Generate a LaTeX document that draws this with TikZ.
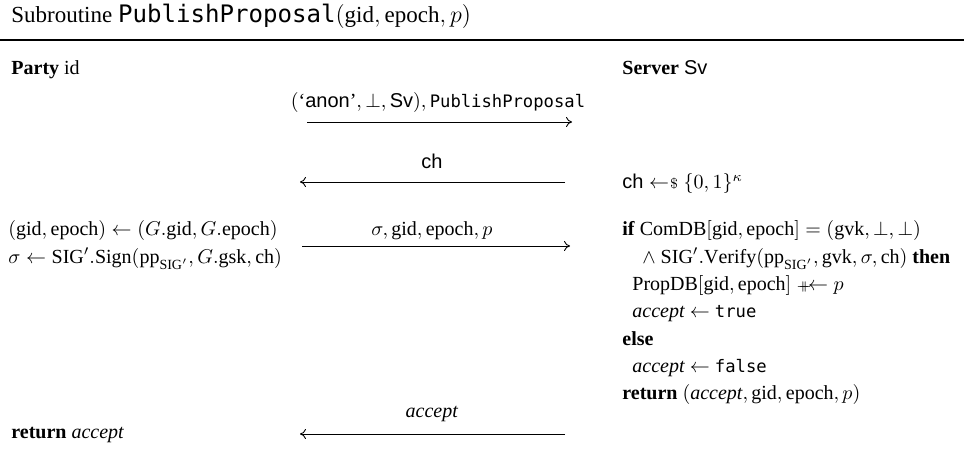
\documentclass[tikz,border=0pt]{standalone}
\usepackage{amsmath,amssymb}
\usepackage{fontspec}
\setmainfont{Liberation Serif}
\setsansfont{Liberation Sans}
\setmonofont[Scale=0.86]{DejaVu Sans Mono}
\usetikzlibrary{arrows.meta}

\newcommand{\nm}[1]{\mathrm{#1}}
\newcommand{\getsr}{\mathrel{\leftarrow\mkern-4mu{\scriptstyle\$}}}
\newcommand{\appendto}{\mathrel{{\scriptstyle+}\mkern-9mu{\scriptstyle+}\mkern-8mu\leftarrow}}
\newcommand{\ppsig}{\nm{pp}_{\nm{SIG}'}}

\begin{document}
\begin{tikzpicture}[x=0.5pt,y=-0.5pt,font=\fontsize{10}{12}\selectfont,
	line/.style={anchor=base west, inner sep=0pt},
	label node/.style={anchor=base, inner sep=0pt},
	msg/.style={-{To[length=3pt,width=5pt]}, line width=0.45pt}]
	\useasboundingbox (0,0) rectangle (964,474);
	
	% heading and the two parties
	\node[line, font=\fontsize{11.5}{14}\selectfont] (title) at (11,23) {Subroutine {\fontsize{14}{14}\selectfont\texttt{PublishProposal}}$(\nm{gid}, \nm{epoch}, p)$};
	\draw[line width=0.6pt] (0,40) -- (964,40);
	\node[line] (party) at (11,75) {\textbf{Party} id};
	\node[line] (server) at (622,75) {\textbf{Server} \textsf{Sv}};
	
	% messages
	\node[label node] (m1) at (438,108) {$(\text{`\textsf{anon}'}, \bot, \mathsf{Sv}), \text{\texttt{PublishProposal}}$};
	\coordinate (m1a) at (307,122);
	\coordinate (m1b) at (572,122);
	\node[label node] (m2) at (432,169) {$\mathsf{ch}$};
	\coordinate (m2a) at (565,182);
	\coordinate (m2b) at (300,182);
	\node[label node] (m3) at (432,236) {$\sigma, \nm{gid}, \nm{epoch}, p$};
	\coordinate (m3a) at (302,246);
	\coordinate (m3b) at (570,246);
	\node[label node] (m4) at (432,418) {\textit{accept}};
	\coordinate (m4a) at (565,434);
	\coordinate (m4b) at (300,434);
	
	\draw[msg] (m1a) -- (m1b);
	\draw[msg] (m2a) -- (m2b);
	\draw[msg] (m3a) -- (m3b);
	\draw[msg] (m4a) -- (m4b);
	
	% party side
	\node[line] (p1) at (8,236) {$(\nm{gid}, \nm{epoch}) \leftarrow (G.\nm{gid}, G.\nm{epoch})$};
	\node[line] (p2) at (8,264) {$\sigma \leftarrow \nm{SIG}'.\nm{Sign}(\ppsig, G.\nm{gsk}, \nm{ch})$};
	\node[line] (p3) at (11,439) {\textbf{return} \textit{accept}};
	
	% server side
	\node[line] (s1) at (622,189) {$\mathsf{ch} \getsr \{0,1\}^{\kappa}$};
	\node[line] (s2) at (622,236) {\textbf{if} $\nm{ComDB}[\nm{gid}, \nm{epoch}] = (\nm{gvk}, \bot, \bot)$};
	\node[line] (s3) at (642,264) {$\wedge\ \nm{SIG}'.\nm{Verify}(\ppsig, \nm{gvk}, \sigma, \nm{ch})$ \textbf{then}};
	\node[line] (s4) at (632,291) {$\nm{PropDB}[\nm{gid}, \nm{epoch}] \appendto p$};
	\node[line] (s5) at (632,318) {\textit{accept} $\leftarrow$ \texttt{true}};
	\node[line] (s6) at (622,346) {\textbf{else}};
	\node[line] (s7) at (632,373) {\textit{accept} $\leftarrow$ \texttt{false}};
	\node[line] (s8) at (622,400) {\textbf{return} $(\textit{accept}, \nm{gid}, \nm{epoch}, p)$};
\end{tikzpicture}
\end{document}
